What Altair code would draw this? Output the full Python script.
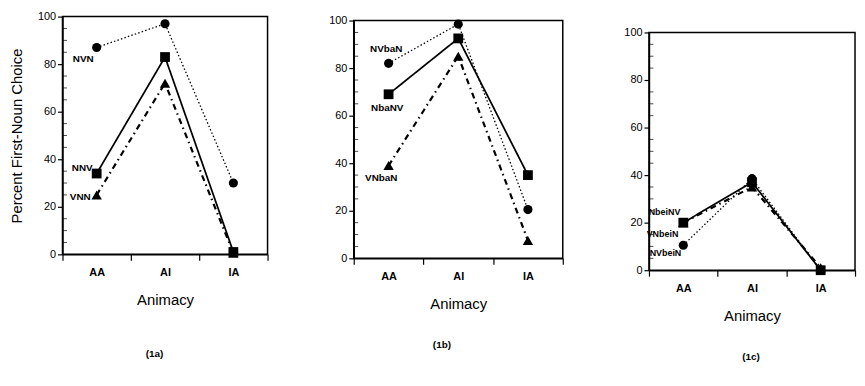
import altair as alt
import pandas as pd

categories = ["AA", "AI", "IA"]

a_names = ["NVN", "NNV", "VNN"]
a_styles = ["dot", "solid", "dashdot"]
a_values = [[87, 97, 30], [34, 83, 1], [25, 72, 0.5]]

b_names = ["NVbaN", "NbaNV", "VNbaN"]
b_styles = ["dot", "solid", "dashdot"]
b_values = [[82, 98.5, 20.5], [69, 92.5, 35], [39, 85, 7.5]]

c_names = ["NbeiNV", "VNbeiN", "NVbeiN"]
c_styles = ["solid", "dashdot", "dot"]
c_values = [[20, 37, 0], [20, 35, 1], [10.5, 38.5, 0]]

y_ticks = [0, 20, 40, 60, 80, 100]
minor_ticks = [5, 10, 15, 25, 30, 35, 45, 50, 55, 65, 70, 75, 85, 90, 95]
captions = ["(1a)", "(1b)", "(1c)"]

FONT = "Liberation Sans"
style_domain = ["dot", "solid", "dashdot"]


def make_df(names, styles, values):
    rows = []
    for n, s, vals in zip(names, styles, values):
        for c, v in zip(categories, vals):
            rows.append({"series": n, "style": s, "cat": c, "value": v})
    return pd.DataFrame(rows)


def y_axis():
    return alt.Axis(values=y_ticks, tickSize=5, labelPadding=2,
                    titlePadding=13, domainColor="black", tickColor="black",
                    domainWidth=1.5, tickWidth=1.2, labelFontSize=11,
                    labelColor="black", titleFontSize=15,
                    titleFontWeight="normal", titleColor="black", grid=False)


def panel(names, styles, values, width, ytitle, label_offsets, label_size,
          caption, cap_xy):
    df = make_df(names, styles, values)
    yscale = alt.Scale(domain=[0, 100], nice=False)
    X = alt.X("cat:N", sort=categories,
              scale=alt.Scale(type="band", paddingInner=0, paddingOuter=0),
              bandPosition=0.5,
              axis=alt.Axis(tickBand="extent", labelAngle=0, tickSize=6,
                            labelPadding=6, title="Animacy", titlePadding=16,
                            domainColor="black", tickColor="black",
                            domainWidth=1.5, tickWidth=1.2,
                            labelFontSize=11, labelFontWeight="bold",
                            labelColor="black", titleFontSize=15,
                            titleFontWeight="normal", titleColor="black",
                            grid=False))
    Y = alt.Y("value:Q", scale=yscale, axis=y_axis(), title=ytitle)
    base = alt.Chart(df)
    lines = base.mark_line(color="black").encode(
        x=X, y=Y, detail="series:N",
        strokeDash=alt.StrokeDash("style:N", scale=alt.Scale(
            domain=style_domain, range=[[1.5, 2.2], [1, 0], [6, 4, 1.5, 4]]),
            legend=None),
        strokeWidth=alt.StrokeWidth("style:N", scale=alt.Scale(
            domain=style_domain, range=[1.3, 2.2, 1.9]), legend=None),
    )
    points = base.mark_point(filled=True, color="black", opacity=1).encode(
        x=X, y=Y,
        shape=alt.Shape("style:N", scale=alt.Scale(
            domain=style_domain, range=["circle", "square", "triangle-up"]),
            legend=None),
        size=alt.Size("style:N", scale=alt.Scale(
            domain=style_domain, range=[85, 110, 75]), legend=None),
    )
    minor = alt.Chart(pd.DataFrame({"v": minor_ticks})).mark_tick(
        orient="horizontal", color="black", size=5, thickness=1
    ).encode(y=alt.Y("v:Q", scale=yscale, axis=y_axis(), title=ytitle),
             x=alt.value(2))
    layers = [lines, points, minor]
    for n, (dx, dy) in zip(names, label_offsets):
        layers.append(base.transform_filter(
            (alt.datum.series == n) & (alt.datum.cat == "AA")
        ).mark_text(align="right", baseline="middle", dx=dx, dy=dy,
                    fontSize=label_size, fontWeight="bold", color="black",
                    font=FONT).encode(x=X, y=Y, text="series:N"))
    cap_df = pd.DataFrame({"t": [caption]})
    layers.append(alt.Chart(cap_df).mark_text(
        fontSize=10, fontWeight="bold", color="black", font=FONT,
        baseline="middle").encode(text="t:N", x=alt.value(cap_xy[0]),
                                  y=alt.value(cap_xy[1])))
    return alt.layer(*layers).properties(width=width, height=240)


def shifted(chart, h):
    spacer = alt.Chart(pd.DataFrame({"a": [0]})).mark_point(
        opacity=0, size=1).encode(x=alt.value(0), y=alt.value(0)).properties(
        width=10, height=h, view=alt.ViewBackground(stroke="transparent"))
    return alt.vconcat(spacer, chart, spacing=0, bounds="flush")


p1 = panel(a_names, a_styles, a_values, 207, "Percent First-Noun Choice",
           [(-3, 12), (-4, -6), (-6, 2)], 10, captions[0], (93, 341))
p2 = panel(b_names, b_styles, b_values, 211, None,
           [(14, -14), (15, 14), (9, 13)], 10, captions[1], (89, 328))
p3 = panel(c_names, c_styles, c_values, 208, None,
           [(-3, -11), (-5, 11), (-2, 8)], 9, captions[2], (103, 328))

chart = alt.hconcat(p1, shifted(p2, 3.5), shifted(p3, 15.5),
                    spacing=58).properties(
    padding={"left": 0, "top": 0, "right": 0, "bottom": 0}
).configure(font=FONT).configure_view(stroke="black", strokeWidth=1.5)

chart.save("out.html", embed_options={"renderer": "svg", "actions": False})
